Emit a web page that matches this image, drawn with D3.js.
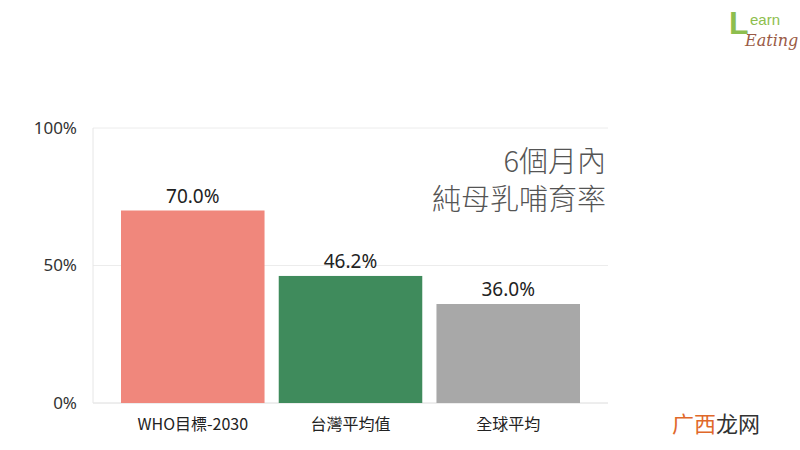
<!DOCTYPE html>
<html><head><meta charset="utf-8">
<script src="https://cdn.jsdelivr.net/npm/d3@7"></script>
<style>body{margin:0;background:#fff;}svg{display:block;font-family:"Noto Sans CJK TC","Noto Sans",sans-serif;}</style>
</head><body>
<svg id="c" width="800" height="450"></svg>
<script>
const categories = ["WHO目標-2030", "台灣平均值", "全球平均"];
const values = [70.0, 46.2, 36.0];
const colors = ["#F0877C", "#3F8B5C", "#A8A8A8"];
const yTicks = [0, 50, 100];
const titleLines = ["6個月內", "純母乳哺育率"];

(function () {
const svg = d3.select("#c");
const pLeft = 93, pRight = 608, pTop = 128, pBottom = 403;
const x = d3.scaleBand().domain(categories).range([121, 580]).paddingInner(0.09).paddingOuter(0);
const y = d3.scaleLinear().domain([0, 100]).range([pBottom, pTop]);

// grid
svg.append("g").selectAll("line").data(yTicks).join("line")
  .attr("x1", pLeft).attr("x2", pRight)
  .attr("y1", d => y(d)).attr("y2", d => y(d))
  .attr("stroke", d => d === 0 ? "#dcdcdc" : "#ececec").attr("stroke-width", 1);
svg.append("line").attr("x1", pLeft).attr("x2", pLeft).attr("y1", pTop).attr("y2", pBottom)
  .attr("stroke", "#e6e6e6");

// y axis labels
const yAxis = d3.axisLeft(y).tickValues(yTicks).tickFormat(d => d + "%").tickSize(0).tickPadding(0);
const ga = svg.append("g").attr("transform", `translate(77,0)`).call(yAxis);
ga.select(".domain").remove();
ga.selectAll("text").attr("font-size", 17).attr("fill", "#333").attr("font-family", "'Noto Sans', sans-serif");

// bars
svg.append("g").selectAll("rect").data(values).join("rect")
  .attr("x", (d, i) => x(categories[i])).attr("width", x.bandwidth())
  .attr("y", d => y(d)).attr("height", d => pBottom - y(d))
  .attr("fill", (d, i) => colors[i]);

// value labels
svg.append("g").selectAll("text").data(values).join("text")
  .attr("x", (d, i) => x(categories[i]) + x.bandwidth() / 2)
  .attr("y", d => y(d) - 8)
  .attr("text-anchor", "middle").attr("font-size", 19).attr("fill", "#222")
  .attr("font-family", "'Noto Sans', sans-serif")
  .text(d => d.toFixed(1) + "%");

// category labels
const gx = svg.append("g").attr("transform", `translate(0,${pBottom})`)
  .call(d3.axisBottom(x).tickSize(0).tickPadding(16));
gx.select(".domain").remove();
gx.selectAll("text").attr("font-size", 16).attr("fill", "#222")
  .attr("font-family", "'Noto Sans CJK TC', sans-serif");

// title
svg.append("g").selectAll("text").data(titleLines).join("text")
  .attr("x", 606).attr("y", (d, i) => 172 + i * 38)
  .attr("text-anchor", "end").attr("font-size", 29).attr("font-weight", 300)
  .attr("fill", "#555").text(d => d);

// logo
const logo = svg.append("g");
logo.append("text").attr("x", 729).attr("y", 34).attr("font-size", 32).attr("font-weight", 700)
  .attr("fill", "#8DBE4E").attr("font-family", "'Liberation Sans', sans-serif").text("L");
logo.append("text").attr("x", 750).attr("y", 25).attr("font-size", 15)
  .attr("fill", "#8DBE4E").attr("font-family", "'Liberation Sans', sans-serif").text("earn");
logo.append("text").attr("x", 745).attr("y", 46).attr("font-size", 16).attr("font-style", "italic")
  .attr("fill", "#9A5A45").attr("font-family", "'DejaVu Serif', serif").text("Eating");

// watermark
const wm = svg.append("text").attr("x", 672).attr("y", 432).attr("font-size", 22)
  .attr("font-family", "'Noto Sans CJK SC', sans-serif");
wm.append("tspan").attr("fill", "#E0682A").text("广西");
wm.append("tspan").attr("fill", "#333").text("龙网");
})();
</script>
</body></html>
